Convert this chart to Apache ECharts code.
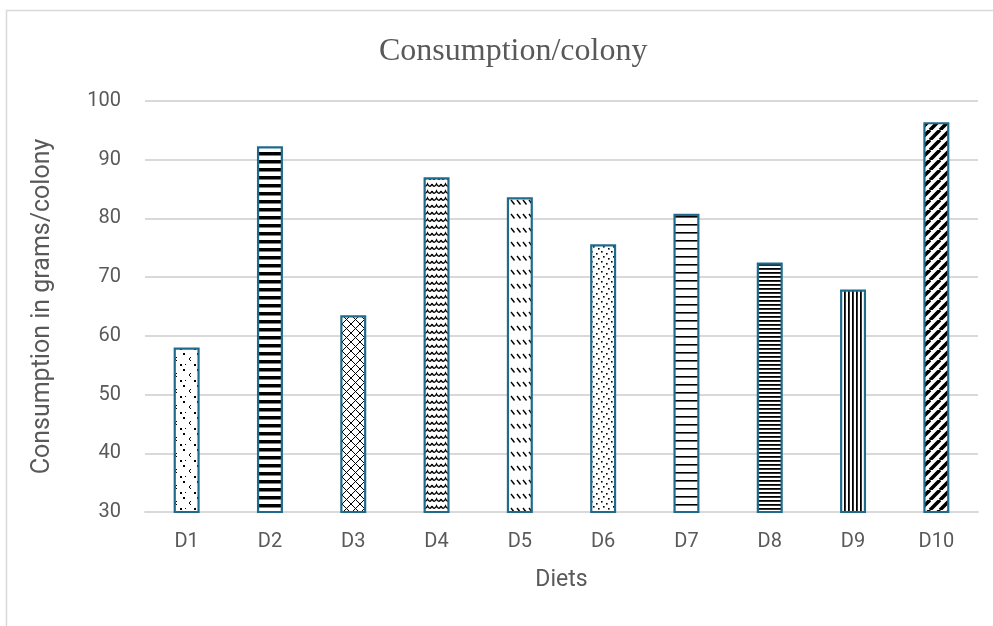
<!DOCTYPE html>
<html>
<head>
<meta charset="utf-8">
<script src="https://cdn.jsdelivr.net/npm/echarts@6/dist/echarts.min.js"></script>
<style>
  html, body { margin: 0; padding: 0; background: #fff; }
  #chart { width: 993px; height: 626px; }
</style>
</head>
<body>
<div id="chart"></div>
<script>
// Diet categories and consumption values (grams per colony)
const diets = ['D1', 'D2', 'D3', 'D4', 'D5', 'D6', 'D7', 'D8', 'D9', 'D10'];
const consumption = [58.0, 92.3, 63.5, 87.0, 83.6, 75.6, 80.8, 72.5, 67.9, 96.4];
const yTicks = [30, 40, 50, 60, 70, 80, 90, 100];

// Build a small repeating fill tile on a canvas
function tile(w, h, draw) {
  const c = document.createElement('canvas');
  c.width = w; c.height = h;
  const g = c.getContext('2d');
  g.fillStyle = '#fff';
  g.fillRect(0, 0, w, h);
  g.fillStyle = '#000';
  g.strokeStyle = '#000';
  draw(g, w, h);
  return c;
}

const fills = [
  // D1: sparse small hooks
  tile(14, 16, g => {
    g.fillRect(1, 1, 2, 2);
    g.fillRect(8, 5, 1, 1); g.fillRect(7, 6, 1, 2); g.fillRect(8, 8, 1, 1);
    g.fillRect(12, 12, 2, 2);
    g.fillRect(3, 12, 1, 1);
  }),
  // D2: wide horizontal stripes
  tile(8, 8, g => { g.fillRect(0, 0, 8, 3.5); }),
  // D3: diagonal lattice
  tile(9, 9, g => {
    g.lineWidth = 1;
    g.beginPath();
    g.moveTo(0, 0); g.lineTo(9, 9);
    g.moveTo(9, 0); g.lineTo(0, 9);
    g.stroke();
  }),
  // D4: waves
  tile(9, 7, g => {
    g.lineWidth = 1.5;
    g.beginPath();
    g.moveTo(0, 2); g.quadraticCurveTo(2.25, 6.5, 4.5, 2); g.quadraticCurveTo(6.75, 6.5, 9, 2);
    g.stroke();
  }),
  // D5: rows of short diagonal dashes
  tile(6, 14, g => {
    g.lineWidth = 1.4;
    g.beginPath();
    g.moveTo(1, 4); g.lineTo(4.5, 8.5);
    g.stroke();
  }),
  // D6: scattered dots
  tile(10, 10, g => {
    g.fillRect(1, 1, 1.6, 1.6); g.fillRect(6, 3, 1.6, 1.6);
    g.fillRect(3, 6, 1.6, 1.6); g.fillRect(8, 8, 1.6, 1.6);
  }),
  // D7: thin horizontal lines
  tile(8, 8, g => { g.fillRect(0, 0, 8, 1.6); }),
  // D8: dense horizontal lines
  tile(8, 4, g => { g.fillRect(0, 0, 8, 1.8); }),
  // D9: vertical lines
  tile(4, 8, g => { g.fillRect(0, 0, 1.8, 8); }),
  // D10: wide diagonal stripes
  tile(10, 10, g => {
    g.lineWidth = 3.6;
    g.beginPath();
    for (let k = -10; k <= 20; k += 10) {
      g.moveTo(k, 10); g.lineTo(k + 10, 0);
    }
    g.stroke();
  })
];

const labelFont = 'Roboto';
const chart = echarts.init(document.getElementById('chart'));
chart.setOption({
  animation: false,
  backgroundColor: '#fff',
  graphic: [{
    type: 'rect',
    shape: { x: 6.5, y: 10.5, width: 1000, height: 700 },
    style: { fill: 'none', stroke: '#d9d9d9', lineWidth: 1.5 },
    silent: true
  }],
  title: {
    text: 'Consumption/colony',
    left: 374,
    top: 31,
    textStyle: {
      fontFamily: 'Liberation Serif',
      fontWeight: 'normal',
      fontSize: 32,
      color: '#595959'
    }
  },
  grid: { left: 145, right: 15, top: 101, bottom: 114 },
  xAxis: {
    type: 'category',
    data: diets,
    name: 'Diets',
    nameLocation: 'middle',
    nameGap: 57,
    nameTextStyle: { fontFamily: labelFont, fontSize: 23, color: '#595959' },
    axisLine: { lineStyle: { color: '#d9d9d9', width: 2 } },
    axisTick: { show: false },
    axisLabel: { fontFamily: labelFont, fontSize: 20, color: '#595959', margin: 20 }
  },
  yAxis: {
    type: 'value',
    min: yTicks[0],
    max: yTicks[yTicks.length - 1],
    interval: 10,
    name: 'Consumption in grams/colony',
    nameLocation: 'middle',
    nameGap: 90,
    nameTextStyle: { fontFamily: labelFont, fontSize: 25, color: '#595959' },
    axisLine: { show: false },
    axisTick: { show: false },
    axisLabel: { fontFamily: labelFont, fontSize: 20, color: '#595959', margin: 24 },
    splitLine: { lineStyle: { color: '#d9d9d9', width: 2 } }
  },
  series: [{
    type: 'bar',
    barWidth: 26,
    data: consumption.map((v, i) => ({
      value: v,
      itemStyle: {
        color: { image: fills[i], repeat: 'repeat' },
        borderColor: '#1f6b8c',
        borderWidth: 2.2
      }
    }))
  }]
});
</script>
</body>
</html>
